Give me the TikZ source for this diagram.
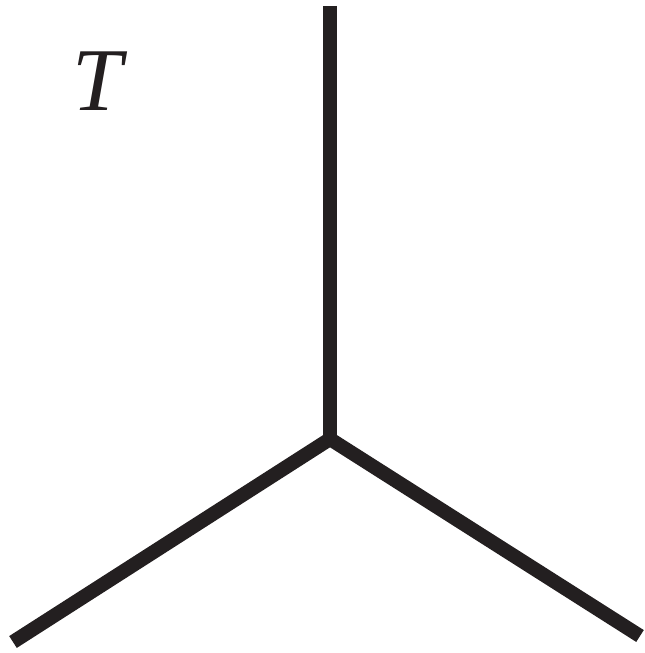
\documentclass[tikz,border=0pt]{standalone}
\usepackage{fontspec}
\setmainfont{Liberation Serif}
\usetikzlibrary{positioning}
\definecolor{InkBlack}{HTML}{231F20}

\tikzset{leg/.style={line width=4pt, line cap=butt, InkBlack}}

\begin{document}
\begin{tikzpicture}
    \useasboundingbox (0,0) rectangle (6.45,6.53);

    % Junction and leg ends
    \coordinate (hub) at (3.30,2.14);
    \coordinate (up) at (3.30,6.47);
    \coordinate (lft) at (0.13,0.11);
    \coordinate (rgt) at (6.40,0.17);

    % Legs
    \draw[leg] (up) -- (hub);
    \draw[leg] (lft) -- (hub) -- (rgt);

    % Label
    \node[text=InkBlack] (lbl) at (1.00,5.72) {\fontsize{25.5}{30}\selectfont\textit{T}};
\end{tikzpicture}
\end{document}
